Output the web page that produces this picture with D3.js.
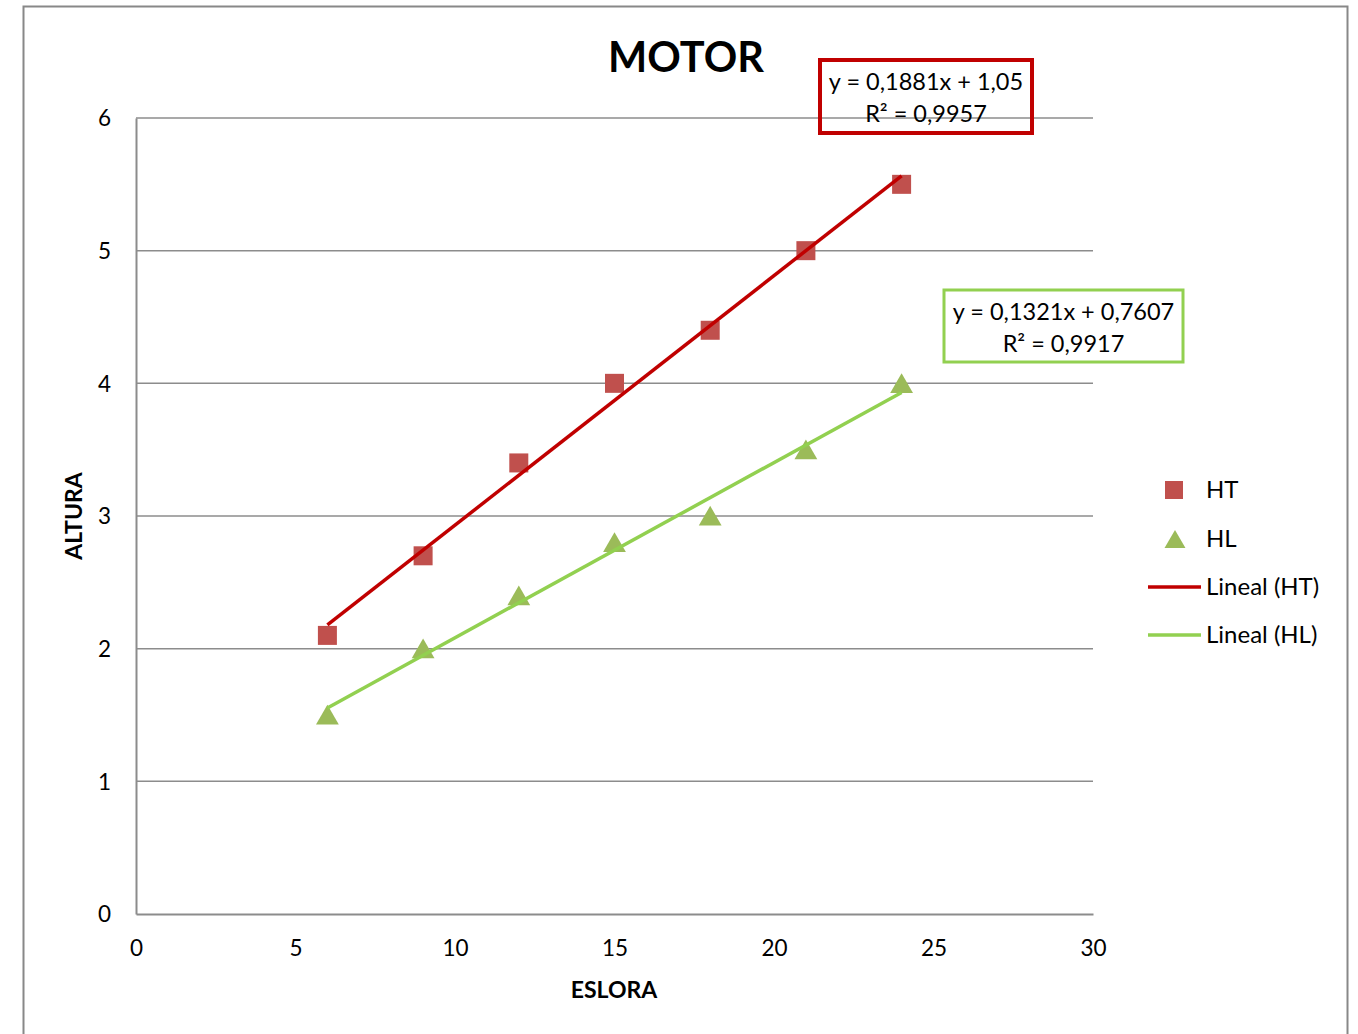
<!DOCTYPE html>
<html>
<head>
<meta charset="utf-8">
<script src="https://cdn.jsdelivr.net/npm/d3@7"></script>
<style>
  html, body { margin: 0; padding: 0; background: #fff; }
  svg { display: block; }
  text { font-family: Lato, "Open Sans", sans-serif; fill: #000; }
</style>
</head>
<body>
<div id="chart"></div>
<script>
// Eslora vs altura, motor boats
const eslora = [6, 9, 12, 15, 18, 21, 24];
const alturaHT = [2.1, 2.7, 3.4, 4.0, 4.4, 5.0, 5.5];
const alturaHL = [1.5, 2.0, 2.4, 2.8, 3.0, 3.5, 4.0];
const xTicks = [0, 5, 10, 15, 20, 25, 30];
const yTicks = [0, 1, 2, 3, 4, 5, 6];
// Linear trend coefficients (slope, intercept) and R²
const fitHT = { m: 0.1881, b: 1.05, r2: "0,9957", eq: "y = 0,1881x + 1,05" };
const fitHL = { m: 0.1321, b: 0.7607, r2: "0,9917", eq: "y = 0,1321x + 0,7607" };

const W = 1358, H = 1034;
const colHT = "#C0504D", colHL = "#9BBB59";
const lineHT = "#C00000", lineHL = "#92D050";

const svg = d3.select("#chart").append("svg").attr("width", W).attr("height", H);

// outer chart frame
svg.append("rect").attr("x", 23.5).attr("y", 6.5).attr("width", 1324).attr("height", 1040)
  .attr("fill", "#fff").attr("stroke", "#888").attr("stroke-width", 2);

const x = d3.scaleLinear().domain([0, 30]).range([136, 1093]);
const y = d3.scaleLinear().domain([0, 6]).range([914, 118]);

// horizontal gridlines
svg.append("g").selectAll("line").data(yTicks.filter(v => v > 0)).join("line")
  .attr("x1", x(0)).attr("x2", x(30))
  .attr("y1", d => y(d)).attr("y2", d => y(d))
  .attr("stroke", "#8c8c8c").attr("stroke-width", 1.5);

// axes
const yAxis = svg.append("g").attr("transform", `translate(${x(0)},0)`)
  .call(d3.axisLeft(y).tickValues(yTicks).tickSize(0).tickPadding(25).tickFormat(d3.format("d")));
const xAxis = svg.append("g").attr("transform", `translate(0,${y(0)})`)
  .call(d3.axisBottom(x).tickValues(xTicks).tickSize(0).tickPadding(26).tickFormat(d3.format("d")));
[xAxis, yAxis].forEach(a => {
  a.select(".domain").attr("stroke", "#8c8c8c").attr("stroke-width", 2);
  a.selectAll("text").attr("font-size", 22.5).attr("font-family", "Lato, 'Open Sans', sans-serif").attr("fill", "#000");
});
yAxis.selectAll("text").attr("dy", "0.35em");

// trendlines
function trend(fit, color) {
  const xs = [d3.min(eslora), d3.max(eslora)];
  svg.append("line")
    .attr("x1", x(xs[0])).attr("y1", y(fit.m * xs[0] + fit.b))
    .attr("x2", x(xs[1])).attr("y2", y(fit.m * xs[1] + fit.b))
    .attr("stroke", color).attr("stroke-width", 3.5);
}

// markers
const sq = 19;
svg.append("g").selectAll("rect").data(eslora).join("rect")
  .attr("x", d => x(d) - sq / 2).attr("y", (d, i) => y(alturaHT[i]) - sq / 2)
  .attr("width", sq).attr("height", sq).attr("fill", colHT);
const tri = d3.symbol().type(d3.symbolTriangle).size(225);
svg.append("g").selectAll("path").data(eslora).join("path")
  .attr("d", tri)
  .attr("transform", (d, i) => `translate(${x(d)},${y(alturaHL[i]) + 3})`)
  .attr("fill", colHL);

trend(fitHT, lineHT);
trend(fitHL, lineHL);

// equation boxes
function eqBox(fit, color, bx, by, bw, bh, sw) {
  svg.append("rect").attr("x", bx).attr("y", by).attr("width", bw).attr("height", bh)
    .attr("fill", "none").attr("stroke", color).attr("stroke-width", sw);
  const cx = bx + bw / 2;
  svg.append("text").attr("x", cx).attr("y", by + 30).attr("text-anchor", "middle")
    .attr("font-size", 23.5).text(fit.eq);
  svg.append("text").attr("x", cx).attr("y", by + 62).attr("text-anchor", "middle")
    .attr("font-size", 23.5).text("R² = " + fit.r2);
}
eqBox(fitHT, lineHT, 820, 60, 212, 73, 4);
eqBox(fitHL, lineHL, 944, 290, 239, 72, 3);

// title and axis titles
svg.append("text").attr("x", 686).attr("y", 72).attr("text-anchor", "middle")
  .attr("font-size", 41.5).attr("font-weight", "bold").text("MOTOR");
svg.append("text").attr("x", 614).attr("y", 998).attr("text-anchor", "middle")
  .attr("font-size", 23).attr("font-weight", "bold").text("ESLORA");
svg.append("text").attr("transform", "translate(82,516) rotate(-90)").attr("text-anchor", "middle")
  .attr("font-size", 23).attr("font-weight", "bold").text("ALTURA");

// legend
const lg = svg.append("g");
lg.append("rect").attr("x", 1165).attr("y", 481).attr("width", 18).attr("height", 18).attr("fill", colHT);
lg.append("path").attr("d", d3.symbol().type(d3.symbolTriangle).size(190)).attr("transform", "translate(1175,542)").attr("fill", colHL);
lg.append("line").attr("x1", 1148).attr("x2", 1201).attr("y1", 587).attr("y2", 587).attr("stroke", lineHT).attr("stroke-width", 3.5);
lg.append("line").attr("x1", 1148).attr("x2", 1201).attr("y1", 635).attr("y2", 635).attr("stroke", lineHL).attr("stroke-width", 3.5);
const legTexts = [["HT", 490], ["HL", 539], ["Lineal (HT)", 587], ["Lineal (HL)", 635]];
lg.selectAll("text").data(legTexts).join("text")
  .attr("x", 1206).attr("y", d => d[1]).attr("dy", "0.35em")
  .attr("font-size", 24).text(d => d[0]);
</script>
</body>
</html>
